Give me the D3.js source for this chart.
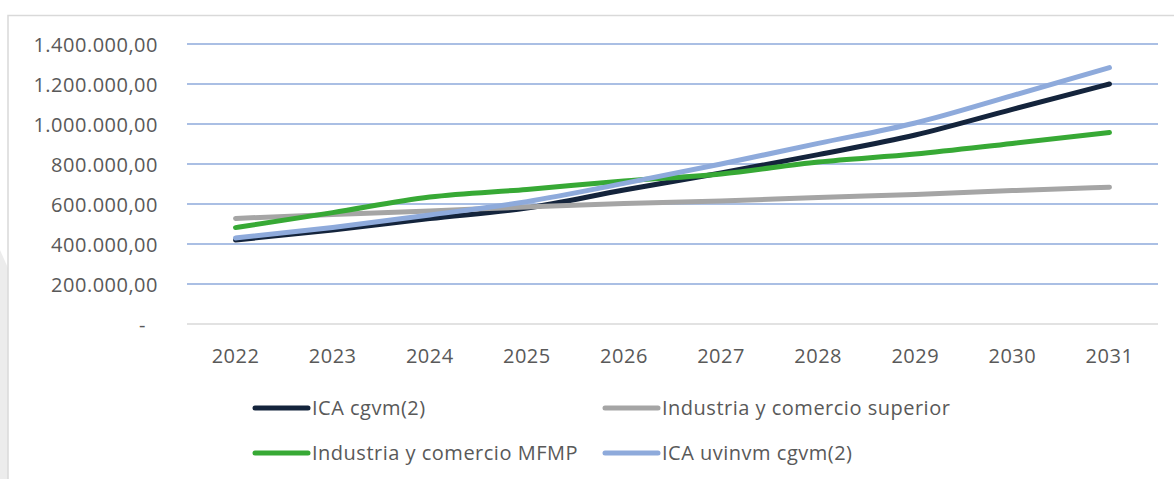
<!DOCTYPE html>
<html>
<head>
<meta charset="utf-8">
<script src="https://cdn.jsdelivr.net/npm/d3@7"></script>
<style>
  html, body { margin: 0; padding: 0; background: #fff; }
  svg { display: block; }
  text { font-family: "Open Sans", "Liberation Sans", sans-serif; fill: #595959; letter-spacing: 0.5px; }
</style>
</head>
<body>
<svg id="chart" width="1174" height="479"></svg>
<script>
// Years on the horizontal axis
const years = ["2022", "2023", "2024", "2025", "2026", "2027", "2028", "2029", "2030", "2031"];

// Projected revenue series
const icaCgvm = [420000, 470000, 527000, 580000, 670000, 755000, 847000, 945000, 1073000, 1200000];
const icSuperior = [528000, 548000, 565000, 585000, 603000, 615000, 633000, 648000, 667000, 684000];
const icMfmp = [482000, 557000, 635000, 673000, 715000, 750000, 810000, 850000, 903000, 957000];
const icaUvinvm = [430000, 483000, 545000, 612000, 703000, 800000, 903000, 1005000, 1142000, 1282000];

// Value-axis ticks
const yTicks = [0, 200000, 400000, 600000, 800000, 1000000, 1200000, 1400000];

const seriesNames = ["ICA cgvm(2)", "Industria y comercio superior", "Industria y comercio MFMP", "ICA uvinvm cgvm(2)"];
const seriesValues = [icaCgvm, icSuperior, icMfmp, icaUvinvm];
const seriesColors = ["#14243c", "#a5a5a5", "#37a935", "#8eaadb"];

const svg = d3.select("#chart");

// Outer frame and the faint panel at the left edge
svg.append("polygon")
  .attr("points", "0,250 8,268 8,479 0,479")
  .attr("fill", "#ececec");
svg.append("path")
  .attr("d", "M8,479 V15.5 H1174")
  .attr("fill", "none")
  .attr("stroke", "#d9d9d9")
  .attr("stroke-width", 1.5);

const plot = { left: 187, right: 1158, top: 44, bottom: 324 };

const x = d3.scaleBand().domain(years).range([plot.left, plot.right]);
const y = d3.scaleLinear().domain([0, 1400000]).range([plot.bottom, plot.top]);

// Gridlines
const grid = svg.append("g");
grid.selectAll("line")
  .data(yTicks.filter(d => d > 0))
  .join("line")
  .attr("x1", plot.left).attr("x2", plot.right)
  .attr("y1", d => y(d)).attr("y2", d => y(d))
  .attr("stroke", "#8eaadb")
  .attr("stroke-width", 1.5);

// Category axis baseline
svg.append("line")
  .attr("x1", plot.left).attr("x2", plot.right)
  .attr("y1", y(0)).attr("y2", y(0))
  .attr("stroke", "#d9d9d9")
  .attr("stroke-width", 1.5);

// Value-axis labels in es-CO style formatting
const fmt = d => d === 0 ? "-" :
  d3.format(",.2f")(d).replace(/,/g, "#").replace(/\./g, ",").replace(/#/g, ".");

const yAxis = d3.axisLeft(y).tickValues(yTicks).tickSize(0).tickPadding(0).tickFormat(fmt);
const yg = svg.append("g").attr("transform", `translate(158,0)`).call(yAxis);
yg.select(".domain").remove();
yg.selectAll("text")
  .attr("font-size", 20)
  .attr("font-family", "'Open Sans', sans-serif")
  .attr("fill", "#595959")
  .attr("dy", "0.35em")
  .attr("dx", d => d === 0 ? -12 : 0);

const xAxis = d3.axisBottom(x).tickSize(0).tickPadding(0);
const xg = svg.append("g").attr("transform", `translate(0,${y(0)})`).call(xAxis);
xg.select(".domain").remove();
xg.selectAll("text")
  .attr("font-size", 20)
  .attr("font-family", "'Open Sans', sans-serif")
  .attr("fill", "#595959")
  .attr("y", 39)
  .attr("dy", 0);

// Series lines
const line = d3.line()
  .x((d, i) => x(years[i]) + x.bandwidth() / 2)
  .y(d => y(d))
  .curve(d3.curveMonotoneX);

svg.append("g").selectAll("path")
  .data(seriesValues)
  .join("path")
  .attr("d", d => line(d))
  .attr("fill", "none")
  .attr("stroke", (d, i) => seriesColors[i])
  .attr("stroke-width", 5)
  .attr("stroke-linecap", "round")
  .attr("stroke-linejoin", "round");

// Legend (two rows, two columns)
const legendPos = [[255, 408], [605, 408], [255, 453], [605, 453]];
const legend = svg.append("g");
seriesNames.forEach((name, i) => {
  const [lx, ly] = legendPos[i];
  legend.append("line")
    .attr("x1", lx).attr("x2", lx + 53)
    .attr("y1", ly).attr("y2", ly)
    .attr("stroke", seriesColors[i])
    .attr("stroke-width", 5)
    .attr("stroke-linecap", "round");
  legend.append("text")
    .attr("x", lx + 57).attr("y", ly)
    .attr("dy", "0.35em")
    .attr("font-size", 20)
    .text(name);
});
</script>
</body>
</html>
